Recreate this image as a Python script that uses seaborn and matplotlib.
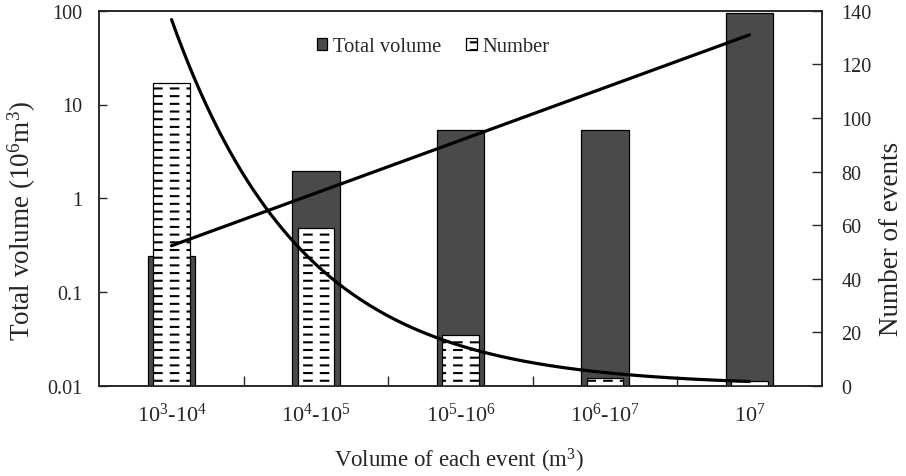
import numpy as np
import pandas as pd
import matplotlib
matplotlib.use("Agg")
import matplotlib.pyplot as plt
import matplotlib.hatch as mhatch
from matplotlib.path import Path
from matplotlib.patches import Patch
from matplotlib.ticker import FixedLocator, NullLocator, FuncFormatter
import seaborn as sns

# ---------------- data ----------------
categories = ["10$^{3}$-10$^{4}$", "10$^{4}$-10$^{5}$", "10$^{5}$-10$^{6}$",
              "10$^{6}$-10$^{7}$", "10$^{7}$"]
total_volume = [0.24, 1.95, 5.3, 5.3, 94]      # 10^6 m^3 (left, log axis)
number_events = [113, 59, 19, 3, 2]             # right axis
left_ticks = [0.01, 0.1, 1, 10, 100]
right_ticks = [0, 20, 40, 60, 80, 100, 120, 140]

# ---------------- dashed hatch pattern ----------------
class DashedHorizontalHatch(mhatch.HatchPatternBase):
    def __init__(self, hatch, density):
        self.num_lines = int(13 * hatch.count('-'))
        self.num_dashes = 6
        self.num_vertices = self.num_lines * self.num_dashes * 2

    def set_vertices_and_codes(self, vertices, codes):
        steps, stepsize = np.linspace(0.0, 1.0, self.num_lines, False, retstep=True)
        steps += stepsize / 2.0
        k = 0
        for y in steps:
            for j in range(self.num_dashes):
                x0 = (j + 0.25) / self.num_dashes
                x1 = x0 + 0.45 / self.num_dashes
                vertices[k] = (x0, y)
                vertices[k + 1] = (x1, y)
                codes[k] = Path.MOVETO
                codes[k + 1] = Path.LINETO
                k += 2

mhatch._hatch_types = [DashedHorizontalHatch if t is mhatch.HorizontalHatch else t
                       for t in mhatch._hatch_types]

# ---------------- style ----------------
sns.set_style("ticks")
plt.rcParams["font.family"] = ["Liberation Serif", "DejaVu Serif"]
plt.rcParams["mathtext.fontset"] = "custom"
plt.rcParams["mathtext.rm"] = "Liberation Serif"
plt.rcParams["mathtext.it"] = "Liberation Serif:italic"
plt.rcParams["mathtext.bf"] = "Liberation Serif:bold"
plt.rcParams["hatch.linewidth"] = 1.5
plt.rcParams["axes.edgecolor"] = "#222222"
plt.rcParams["axes.linewidth"] = 1.1

FS_Y = 14.5      # y tick labels
FS_X = 16        # x tick labels
FS_XL = 16.5     # x axis title
FS_YL = 19.5     # rotated axis titles
FS_LEG = 14.8
dark = "#4a4a4a"

fig = plt.figure(figsize=(9.06, 4.77), dpi=100)
ax = fig.add_axes([99.3 / 906, 1 - 386.9 / 477, (821.7 - 99.3) / 906, (386.9 - 11.7) / 477])
ax.set_yscale("log")

df = pd.DataFrame({"category": categories, "volume": total_volume, "number": number_events})

sns.barplot(data=df, x="category", y="volume", ax=ax, color=dark, saturation=1,
            width=0.33, edgecolor="black", linewidth=0.9)
ax.set_ylim(0.01, 100)

ax2 = ax.twinx()
sns.barplot(data=df, x="category", y="number", ax=ax2, color="white", saturation=1,
            width=0.255, edgecolor="black", linewidth=0.9, hatch="-")

# trend lines (exponential fits of the data, as in the source chart)
xpos = np.arange(len(categories))
xf = np.linspace(xpos[0], xpos[-1], 200)
cv = np.polyfit(xpos, np.log(total_volume), 1)
cn = np.polyfit(xpos, np.log(number_events), 1)
sns.lineplot(x=xf, y=np.exp(np.polyval(cv, xf)), ax=ax2, color="black", lw=2.3,
             transform=ax.transData, estimator=None, sort=False)
sns.lineplot(x=xf, y=np.exp(np.polyval(cn, xf)), ax=ax2, color="black", lw=2.3,
             estimator=None, sort=False)
ax2.set_ylim(0, 140)
ax.set_ylim(0.01, 100)
ax2.set_xlim(-0.5, len(categories) - 0.5)

# ticks
ax.yaxis.set_major_locator(FixedLocator(left_ticks))
ax.yaxis.set_minor_locator(NullLocator())
ax.yaxis.set_major_formatter(FuncFormatter(lambda v, p: f"{v:g}"))
ax2.yaxis.set_major_locator(FixedLocator(right_ticks))
ax.tick_params(axis="y", direction="in", length=5.5, width=1, labelsize=FS_Y, pad=12)
ax2.tick_params(axis="y", direction="in", length=7, width=1, labelsize=FS_Y, pad=14)
ax.tick_params(axis="x", which="major", length=0, labelsize=FS_X, pad=12)
ax.xaxis.set_minor_locator(FixedLocator(np.arange(len(categories) - 1) + 0.5))
ax.tick_params(axis="x", which="minor", direction="in", length=7, width=1)
ax2.tick_params(axis="x", which="both", length=0)
for a in (ax, ax2):
    for s in a.spines.values():
        s.set_visible(True)

ax.set_xlabel("")
ax.set_ylabel("")
ax2.set_xlabel("")
ax2.set_ylabel("")
fig.text(459 / 906, 1 - 461 / 477, "Volume of each event (m$^{3}$)", ha="center",
         va="center", fontsize=FS_XL)
fig.text(22 / 906, 1 - 221 / 477, "Total volume (10$^{6}$m$^{3}$)", ha="center",
         va="center", rotation=90, fontsize=FS_YL)
fig.text(892 / 906, 1 - 239 / 477, "Number of events", ha="center",
         va="center", rotation=90, fontsize=FS_YL)

handles = [Patch(facecolor=dark, edgecolor="black", linewidth=0.9, label="Total volume"),
           Patch(facecolor="white", edgecolor="black", linewidth=0.9, hatch="-", label="Number")]
leg = ax2.legend(handles=handles, loc="center", bbox_to_anchor=(433.5 / 906, 1 - 48 / 477),
                 bbox_transform=fig.transFigure, ncol=2, frameon=False, fontsize=FS_LEG,
                 handlelength=0.5, handleheight=0.5, handletextpad=0.3, columnspacing=1.2)

fig.savefig("out.png", dpi=100)
